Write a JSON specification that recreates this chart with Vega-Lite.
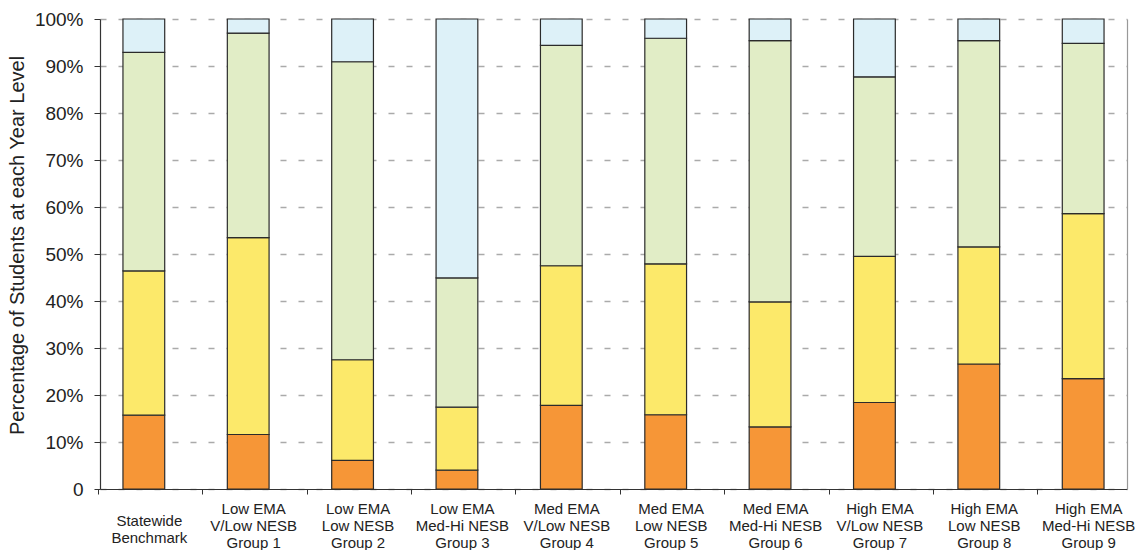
{
  "$schema": "https://vega.github.io/schema/vega-lite/v6.json",
  "width": 1027,
  "height": 470,
  "autosize": {"type": "none"},
  "padding": {"left": 100, "top": 19, "right": 13, "bottom": 61},
  "background": "white",
  "config": {"view": {"stroke": null}, "font": "Liberation Sans"},
  "data": {
    "values": [
      {"group": "Statewide|Benchmark", "level": "Level 1", "ord": 1, "pct": 15.7},
      {"group": "Statewide|Benchmark", "level": "Level 2", "ord": 2, "pct": 30.7},
      {"group": "Statewide|Benchmark", "level": "Level 3", "ord": 3, "pct": 46.5},
      {"group": "Statewide|Benchmark", "level": "Level 4", "ord": 4, "pct": 7.1},
      {"group": "Low EMA|V/Low NESB|Group 1", "level": "Level 1", "ord": 1, "pct": 11.6},
      {"group": "Low EMA|V/Low NESB|Group 1", "level": "Level 2", "ord": 2, "pct": 41.9},
      {"group": "Low EMA|V/Low NESB|Group 1", "level": "Level 3", "ord": 3, "pct": 43.5},
      {"group": "Low EMA|V/Low NESB|Group 1", "level": "Level 4", "ord": 4, "pct": 3.0},
      {"group": "Low EMA|Low NESB|Group 2", "level": "Level 1", "ord": 1, "pct": 6.1},
      {"group": "Low EMA|Low NESB|Group 2", "level": "Level 2", "ord": 2, "pct": 21.4},
      {"group": "Low EMA|Low NESB|Group 2", "level": "Level 3", "ord": 3, "pct": 63.4},
      {"group": "Low EMA|Low NESB|Group 2", "level": "Level 4", "ord": 4, "pct": 9.1},
      {"group": "Low EMA|Med-Hi NESB|Group 3", "level": "Level 1", "ord": 1, "pct": 4.0},
      {"group": "Low EMA|Med-Hi NESB|Group 3", "level": "Level 2", "ord": 2, "pct": 13.4},
      {"group": "Low EMA|Med-Hi NESB|Group 3", "level": "Level 3", "ord": 3, "pct": 27.5},
      {"group": "Low EMA|Med-Hi NESB|Group 3", "level": "Level 4", "ord": 4, "pct": 55.1},
      {"group": "Med EMA|V/Low NESB|Group 4", "level": "Level 1", "ord": 1, "pct": 17.8},
      {"group": "Med EMA|V/Low NESB|Group 4", "level": "Level 2", "ord": 2, "pct": 29.7},
      {"group": "Med EMA|V/Low NESB|Group 4", "level": "Level 3", "ord": 3, "pct": 46.9},
      {"group": "Med EMA|V/Low NESB|Group 4", "level": "Level 4", "ord": 4, "pct": 5.6},
      {"group": "Med EMA|Low NESB|Group 5", "level": "Level 1", "ord": 1, "pct": 15.8},
      {"group": "Med EMA|Low NESB|Group 5", "level": "Level 2", "ord": 2, "pct": 32.1},
      {"group": "Med EMA|Low NESB|Group 5", "level": "Level 3", "ord": 3, "pct": 48.0},
      {"group": "Med EMA|Low NESB|Group 5", "level": "Level 4", "ord": 4, "pct": 4.1},
      {"group": "Med EMA|Med-Hi NESB|Group 6", "level": "Level 1", "ord": 1, "pct": 13.2},
      {"group": "Med EMA|Med-Hi NESB|Group 6", "level": "Level 2", "ord": 2, "pct": 26.6},
      {"group": "Med EMA|Med-Hi NESB|Group 6", "level": "Level 3", "ord": 3, "pct": 55.6},
      {"group": "Med EMA|Med-Hi NESB|Group 6", "level": "Level 4", "ord": 4, "pct": 4.6},
      {"group": "High EMA|V/Low NESB|Group 7", "level": "Level 1", "ord": 1, "pct": 18.4},
      {"group": "High EMA|V/Low NESB|Group 7", "level": "Level 2", "ord": 2, "pct": 31.1},
      {"group": "High EMA|V/Low NESB|Group 7", "level": "Level 3", "ord": 3, "pct": 38.2},
      {"group": "High EMA|V/Low NESB|Group 7", "level": "Level 4", "ord": 4, "pct": 12.3},
      {"group": "High EMA|Low NESB|Group 8", "level": "Level 1", "ord": 1, "pct": 26.6},
      {"group": "High EMA|Low NESB|Group 8", "level": "Level 2", "ord": 2, "pct": 24.9},
      {"group": "High EMA|Low NESB|Group 8", "level": "Level 3", "ord": 3, "pct": 43.9},
      {"group": "High EMA|Low NESB|Group 8", "level": "Level 4", "ord": 4, "pct": 4.6},
      {"group": "High EMA|Med-Hi NESB|Group 9", "level": "Level 1", "ord": 1, "pct": 23.5},
      {"group": "High EMA|Med-Hi NESB|Group 9", "level": "Level 2", "ord": 2, "pct": 35.1},
      {"group": "High EMA|Med-Hi NESB|Group 9", "level": "Level 3", "ord": 3, "pct": 36.2},
      {"group": "High EMA|Med-Hi NESB|Group 9", "level": "Level 4", "ord": 4, "pct": 5.2}
    ]
  },
  "layer": [
    {
      "mark": {"type": "bar", "stroke": "#2b2b2b", "strokeWidth": 1.2},
      "encoding": {
        "x": {
          "field": "group",
          "type": "nominal",
          "sort": null,
          "scale": {"paddingInner": 0.6, "paddingOuter": 0.22},
          "axis": {
            "title": null,
            "labelAngle": 0,
            "labelExpr": "split(datum.label, '|')",
            "labelFontSize": 15,
            "labelLineHeight": 17,
            "labelBaseline": "middle",
            "labelPadding": {"condition": {"test": "datum.value === 'Statewide|Benchmark'", "value": 26}, "value": 14},
            "labelColor": "#222",
            "labelOverlap": false,
            "bandPosition": 0,
            "tickOffset": -25,
            "labelOffset": 30,
            "tickSize": 5,
            "tickColor": "#333",
            "domainColor": "#333",
            "domainWidth": 1.2,
            "grid": false
          }
        },
        "y": {
          "field": "pct",
          "type": "quantitative",
          "stack": "zero",
          "scale": {"domain": [0, 100], "nice": false},
          "axis": {
            "title": "Percentage of Students at each Year Level",
            "titleFontSize": 20,
            "titleFontWeight": "normal",
            "titleColor": "#222",
            "titleX": -73,
            "titleY": 226,
            "values": [0, 10, 20, 30, 40, 50, 60, 70, 80, 90, 100],
            "labelExpr": "datum.value == 0 ? '0' : datum.value + '%'",
            "labelFontSize": 19,
            "labelColor": "#222",
            "labelPadding": 11,
            "tickSize": 6,
            "tickColor": "#333",
            "domainColor": "#333",
            "domainWidth": 1.2,
            "grid": true,
            "gridColor": "#aaaaaa",
            "gridDash": [6, 12],
            "gridWidth": 1.5
          }
        },
        "color": {
          "field": "level",
          "type": "nominal",
          "scale": {
            "domain": ["Level 1", "Level 2", "Level 3", "Level 4"],
            "range": ["#F69637", "#FCE96A", "#E1EDC6", "#DDF1F8"]
          },
          "legend": null
        },
        "order": {"field": "ord", "type": "quantitative"}
      }
    },
    {
      "mark": {"type": "bar", "opacity": 0},
      "encoding": {
        "x": {"field": "group", "type": "nominal", "sort": null},
        "y": {
          "field": "pct",
          "type": "quantitative",
          "stack": "zero",
          "axis": {
            "orient": "right",
            "labels": false,
            "ticks": false,
            "grid": false,
            "domain": true,
            "domainColor": "#999",
            "domainWidth": 1.2,
            "title": null
          }
        },
        "order": {"field": "ord", "type": "quantitative"}
      }
    }
  ],
  "resolve": {"axis": {"y": "independent"}}
}
